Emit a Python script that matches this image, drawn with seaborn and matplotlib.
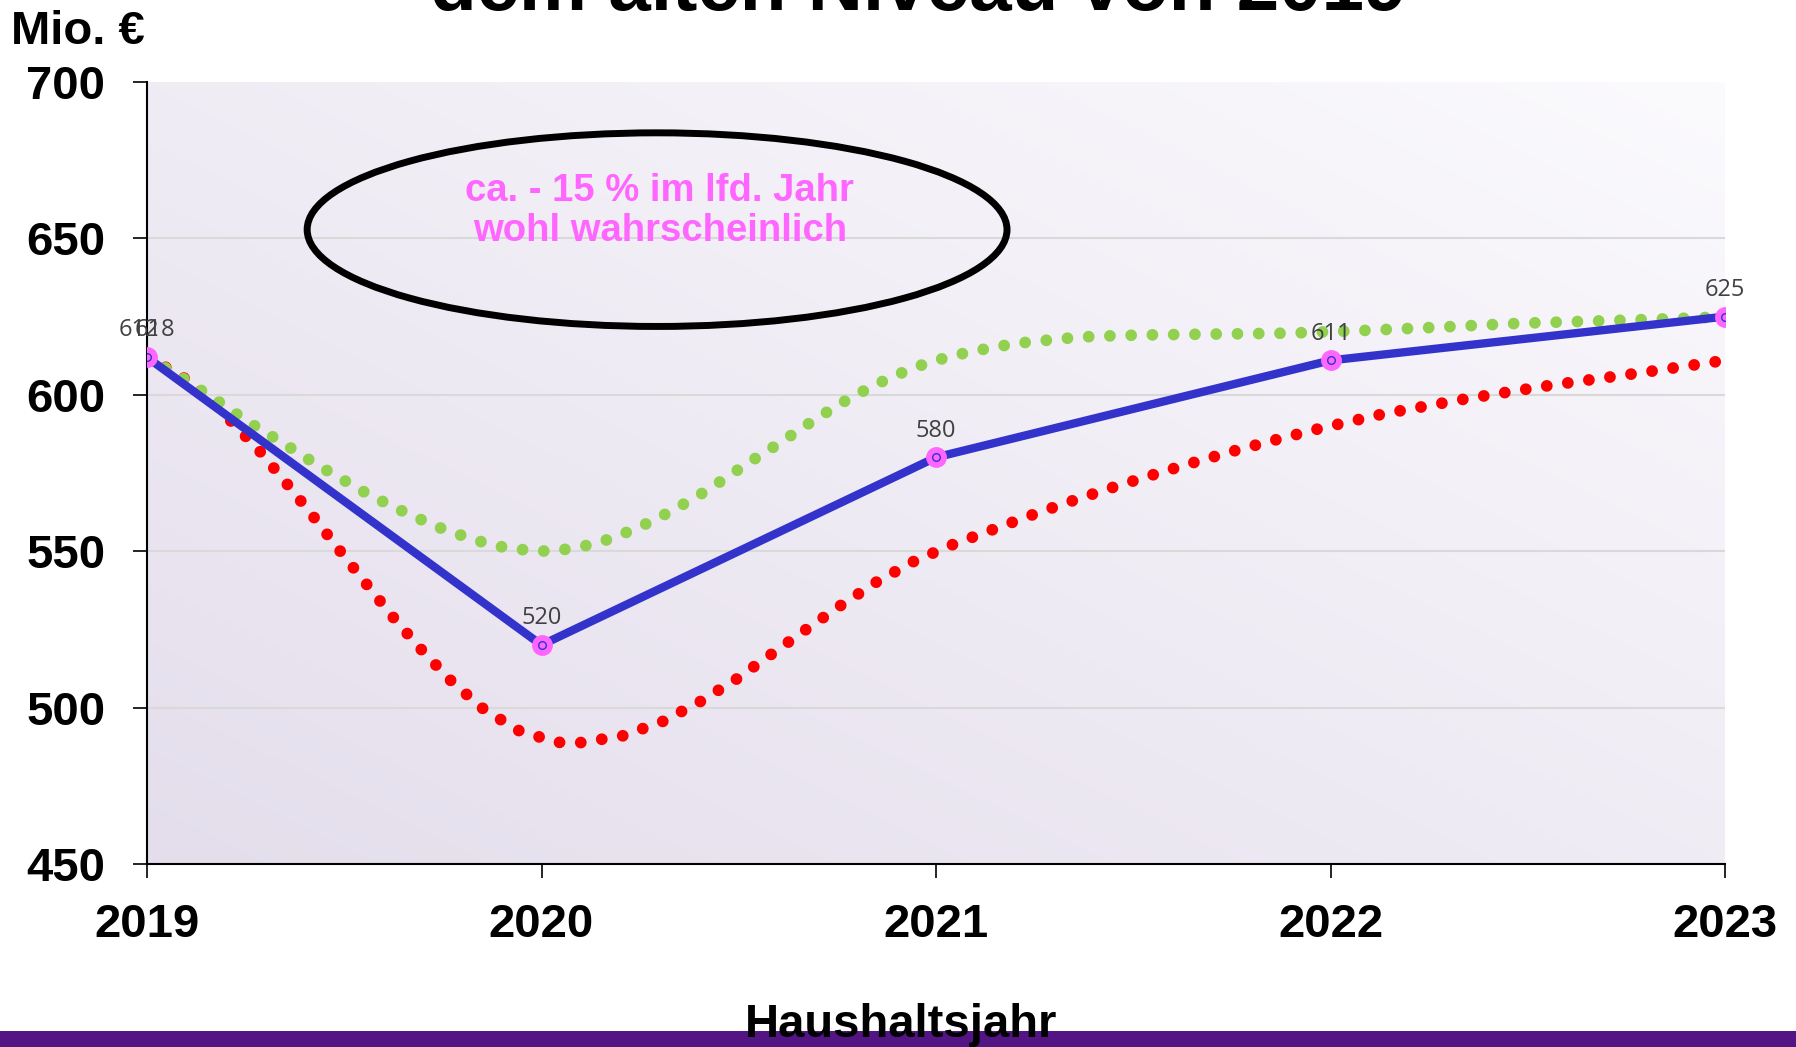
import numpy as np
import matplotlib
matplotlib.use('Agg')
import matplotlib.pyplot as plt
from matplotlib.patches import Ellipse, Rectangle
import seaborn as sns

# --- data ---
years = [2019, 2020, 2021, 2022, 2023]
actual = [612, 520, 580, 611, 625]
actual_labels = ['612', '520', '580', '611', '625']
extra_label_2019 = '618'

# pessimistic scenario (red dotted), year offset from 2019 and value
red_t = [0.000, 0.037, 0.084, 0.128, 0.170, 0.206, 0.244, 0.281, 0.351, 0.419,
         0.486, 0.553, 0.621, 0.692, 0.767, 0.848, 0.939, 1.038, 1.098, 1.204,
         1.306, 1.402, 1.494, 1.582, 1.671, 1.759, 1.851, 1.946, 2.044, 2.146,
         2.248, 2.350, 2.453, 2.557, 2.660, 2.765, 2.870, 2.975, 3.134, 3.347,
         3.561, 3.784, 4.000]
red_v = [612.0, 609.5, 606.3, 602.0, 597.8, 592.5, 587.5, 582.7, 572.1, 561.5,
         550.6, 540.0, 529.3, 519.0, 509.0, 500.0, 492.8, 488.9, 488.8, 490.9,
         495.5, 501.9, 509.1, 517.0, 525.0, 532.7, 540.3, 546.9, 552.2, 557.0,
         561.8, 566.3, 570.6, 574.7, 578.6, 582.4, 585.9, 589.3, 593.9, 598.8,
         603.1, 607.0, 611.0]

# optimistic scenario (green dotted)
green_t = [0.000, 0.048, 0.095, 0.140, 0.185, 0.230, 0.275, 0.322, 0.368, 0.414,
           0.460, 0.507, 0.554, 0.602, 0.651, 0.700, 0.750, 0.801, 0.853, 0.906,
           0.959, 1.014, 1.068, 1.121, 1.173, 1.223, 1.273, 1.321, 1.368, 1.415,
           1.461, 1.506, 1.551, 1.597, 1.643, 1.687, 1.734, 1.780, 1.828, 1.876,
           1.926, 1.976, 2.029, 2.082, 2.135, 2.188, 2.242, 2.295, 2.350, 2.404,
           2.458, 2.512, 2.566, 2.892, 3.054, 3.271, 3.488, 3.704, 3.930, 4.000]
green_v = [612.0, 608.5, 605.0, 601.2, 597.5, 593.6, 589.9, 586.3, 582.7, 579.0,
           575.5, 572.1, 568.7, 565.6, 562.6, 559.8, 557.1, 554.9, 552.8, 551.2,
           550.4, 550.0, 550.7, 552.0, 553.9, 556.4, 559.2, 562.3, 565.6, 569.1,
           572.9, 576.7, 580.4, 584.0, 587.9, 591.6, 595.3, 598.8, 602.0, 605.0,
           607.7, 610.1, 612.0, 613.6, 614.9, 616.1, 617.0, 617.6, 618.3, 618.7,
           618.9, 619.1, 619.2, 619.7, 620.4, 621.6, 622.9, 623.7, 624.6, 625.0]

y_ticks = [450, 500, 550, 600, 650, 700]

# --- style ---
sns.set_style('white')
plt.rcParams['font.family'] = ['Liberation Sans', 'DejaVu Sans']
plt.rcParams['text.color'] = 'black'
plt.rcParams['xtick.color'] = 'black'
plt.rcParams['ytick.color'] = 'black'

fig = plt.figure(figsize=(17.96, 10.47), dpi=100)
ax = fig.add_axes([147 / 1796, 1 - 864 / 1047, 1578 / 1796, 782 / 1047])

# lavender gradient behind the plot
gx, gy = np.meshgrid(np.linspace(0, 1, 200), np.linspace(0, 1, 200))
g = (gx + gy) / 2
c0 = np.array([228, 222, 236]) / 255
c1 = np.array([251, 250, 253]) / 255
img = c0 + (c1 - c0) * g[..., None]
ax.imshow(img, extent=[2019, 2023, 450, 700], origin='lower', aspect='auto', zorder=-2)

# scenario lines
red_x = [2019 + t for t in red_t]
green_x = [2019 + t for t in green_t]
sns.lineplot(x=red_x, y=red_v, ax=ax, color='#FF0000', linewidth=8.5, estimator=None, sort=False)
sns.lineplot(x=green_x, y=green_v, ax=ax, color='#92D050', linewidth=8.5, estimator=None, sort=False)
for ln in ax.lines[-2:]:
    ln.set_linestyle((0, (0.001, 1.8)))
    ln.set_dash_capstyle('round')
    ln.set_zorder(3)

# actual line
sns.lineplot(x=years, y=actual, ax=ax, color='#3333CC', linewidth=6, estimator=None, sort=False)
ax.lines[-1].set_zorder(4)
ax.plot(years, actual, linestyle='none', marker='o', markersize=14,
        markerfacecolor='#FF66FF', markeredgecolor='#FF66FF', zorder=5)
ax.plot(years, actual, linestyle='none', marker='o', markersize=5.5,
        markerfacecolor='none', markeredgecolor='#3333CC', markeredgewidth=1, zorder=6)

for x, v, lab in zip(years, actual, actual_labels):
    dx = -6 if x == 2019 else 0
    ax.annotate(lab, (x, v), xytext=(dx, 15), textcoords='offset points',
                ha='center', va='baseline', fontsize=17, color='#404040',
                family='Open Sans', zorder=7, annotation_clip=False)
ax.annotate(extra_label_2019, (years[0], actual[0]), xytext=(6, 15),
            textcoords='offset points', ha='center', va='baseline', fontsize=17,
            color='#404040', family='Open Sans', zorder=7, annotation_clip=False)

# ellipse with comment
ax.add_patch(Ellipse((2020.293, 652.8), 1.774, 61.9, fill=False, edgecolor='black',
                     linewidth=5, zorder=6, clip_on=False))
ax.text(2020.30, 658.8, 'ca. - 15 % im lfd. Jahr\nwohl wahrscheinlich', ha='center',
        va='center', multialignment='center', linespacing=1.12, fontsize=27.5,
        fontweight='bold', color='#FF66FF', zorder=7)

# axes
ax.set_xlim(2019, 2023)
ax.set_ylim(450, 700)
ax.set_xticks(years)
ax.set_xticklabels([str(y) for y in years])
ax.set_yticks(y_ticks)
ax.set_yticklabels([str(v) for v in y_ticks])
ax.tick_params(axis='y', left=True, length=10, width=1.2, pad=20, labelsize=34)
ax.tick_params(axis='x', bottom=True, length=10, width=1.2, pad=18, labelsize=34)
for lab in ax.get_xticklabels() + ax.get_yticklabels():
    lab.set_fontweight('bold')
ax.grid(axis='y', color='#D9D9D9', linewidth=1.5)
ax.grid(axis='x', visible=False)
ax.set_axisbelow(True)
ax.get_ygridlines()[-1].set_visible(False)
for side in ['top', 'right']:
    ax.spines[side].set_visible(False)
for side in ['left', 'bottom']:
    ax.spines[side].set_color('black')
    ax.spines[side].set_linewidth(1.5)

# surrounding texts
fig.text(11 / 1796, 1 - 44 / 1047, 'Mio. €', fontsize=34, fontweight='bold',
         ha='left', va='baseline')
fig.text(0.511, 1 - 10 / 1047, 'dem alten Niveau von 2019', fontsize=55,
         fontweight='bold', ha='center', va='baseline')
fig.patches.append(Rectangle((0, 0), 1, 16 / 1047, transform=fig.transFigure,
                             facecolor='#541584', edgecolor='none', zorder=0))
fig.text(901 / 1796, 1 - 1037 / 1047, 'Haushaltsjahr', fontsize=34, fontweight='bold',
         ha='center', va='baseline', zorder=5)

fig.savefig('out.png', dpi=100)
